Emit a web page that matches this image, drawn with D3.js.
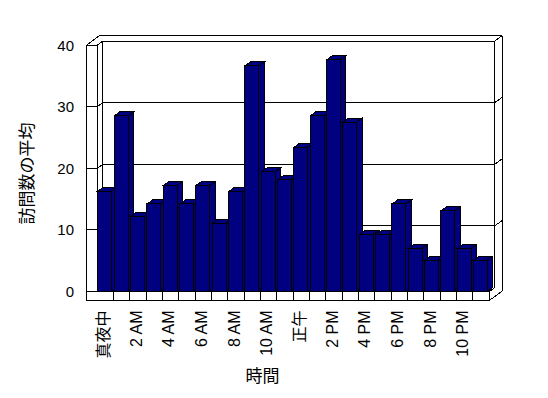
<!DOCTYPE html>
<html>
<head>
<meta charset="utf-8">
<script src="https://cdn.jsdelivr.net/npm/d3@7"></script>
<style>
  body { margin: 0; background: #fff; }
  svg { display: block; font-family: "Liberation Sans", "Noto Sans CJK JP", sans-serif; }
</style>
</head>
<body>
<svg id="chart" width="548" height="398"></svg>
<script>
// data
const hours = ["真夜中", "1 AM", "2 AM", "3 AM", "4 AM", "5 AM", "6 AM", "7 AM", "8 AM", "9 AM", "10 AM", "11 AM",
    "正午", "1 PM", "2 PM", "3 PM", "4 PM", "5 PM", "6 PM", "7 PM", "8 PM", "9 PM", "10 PM", "11 PM"];
const visits = [16.3, 28.5, 12.2, 14.2, 17.2, 14.2, 17.2, 11.1, 16.2, 36.6, 19.4, 18.1,
    23.4, 28.5, 37.6, 27.5, 9.2, 9.2, 14.2, 7.0, 5.1, 13.1, 7.0, 5.1];
const yTicks = [0, 10, 20, 30, 40];
const xLabels = hours.filter((d, i) => i % 2 == 0);

// layout
const plotLeft = 97.3, plotRight = 489.3;
const depth = { x: 5.5, y: -4 };      // bar / plot depth
const thick = { x: 7.5, y: -5.5 };    // wall thickness
const sideW = 10.6, floorH = 9;

const svg = d3.select("#chart");
const g = svg.append("g").attr("shape-rendering", "crispEdges");

const xScale = d3.scaleBand().domain(hours).range([plotLeft, plotRight]);
const yScale = d3.scaleLinear().domain([0, 40]).range([291.5, 45]);
const bw = xScale.bandwidth();

const yTop = yScale(40), yBase = yScale(0);
const bx0 = plotLeft + depth.x, bx1 = plotRight + depth.x;
const ox = depth.x + thick.x, oy = depth.y + thick.y;

function line(x1, y1, x2, y2) {
    g.append("line")
        .attr("x1", x1).attr("y1", y1).attr("x2", x2).attr("y2", y2)
        .attr("stroke", "#000").attr("stroke-width", 1);
}

// left wall front face
g.append("rect")
    .attr("x", plotLeft - sideW).attr("y", yTop)
    .attr("width", sideW).attr("height", yBase + floorH - yTop)
    .attr("fill", "#fff").attr("stroke", "#000");
// wall tops and back wall
line(plotLeft - sideW, yTop, plotLeft - sideW + ox, yTop + oy);
line(plotLeft, yTop, bx0, yTop + depth.y);
line(plotLeft - sideW + ox, yTop + oy, bx1 + thick.x, yTop + oy);
line(bx0, yTop + depth.y, bx1, yTop + depth.y);
line(bx0, yTop + depth.y, bx0, yBase + depth.y);
line(bx1, yTop + depth.y, bx1, yBase + depth.y);
line(bx1 + thick.x, yTop + oy, bx1 + thick.x, yBase + floorH + oy);
line(bx1, yTop + depth.y, bx1 + thick.x, yTop + oy);

// gridlines
yTicks.forEach(function (v) {
    const fy = yScale(v);
    line(plotLeft - sideW, fy, plotLeft, fy);
    line(plotLeft, fy, bx0, fy + depth.y);
    if (v > 0) {
        line(bx0, fy + depth.y, bx1, fy + depth.y);
        line(bx1, fy + depth.y, bx1 + thick.x, fy + oy);
    }
});

// floor
g.append("rect")
    .attr("x", plotLeft - sideW).attr("y", yBase)
    .attr("width", plotRight - plotLeft + sideW).attr("height", floorH)
    .attr("fill", "#fff").attr("stroke", "#000");
hours.forEach(function (d) {
    line(xScale(d) + bw, yBase, xScale(d) + bw, yBase + floorH);
});
line(plotRight, yBase + floorH, plotRight + ox, yBase + floorH + oy);
line(plotRight, yBase, bx1, yBase + depth.y);

// bars
const bars = g.selectAll(".bar")
    .data(hours.map((d, i) => ({ hour: d, value: visits[i] })))
    .enter().append("g").attr("class", "bar");

bars.each(function (d) {
    const el = d3.select(this);
    const x0 = xScale(d.hour) + bw * 0.04, x1 = x0 + bw * 0.84;
    const y0 = yScale(d.value);
    el.append("path")
        .attr("d", `M${x1},${y0}L${x1 + depth.x},${y0 + depth.y}L${x1 + depth.x},${yBase + depth.y}L${x1},${yBase}Z`)
        .attr("fill", "#000080").attr("stroke", "#000");
    el.append("path")
        .attr("d", `M${x0},${y0}L${x0 + depth.x},${y0 + depth.y}L${x1 + depth.x},${y0 + depth.y}L${x1},${y0}Z`)
        .attr("fill", "#000080").attr("stroke", "#000");
    el.append("rect")
        .attr("x", x0).attr("y", y0)
        .attr("width", x1 - x0).attr("height", yBase - y0)
        .attr("fill", "#000080").attr("stroke", "#000");
});

// y tick labels
svg.append("g").selectAll("text")
    .data(yTicks).enter().append("text")
    .attr("x", 74).attr("y", d => yScale(d))
    .attr("text-anchor", "end")
    .attr("dominant-baseline", "central")
    .style("font-size", "15px")
    .text(d => d);

// x tick labels
svg.append("g").selectAll("text")
    .data(xLabels).enter().append("text")
    .attr("transform", d => "translate(" + (xScale(d) + bw / 2 - 2) + ",310.5) rotate(-90)")
    .attr("text-anchor", "end")
    .attr("dominant-baseline", "central")
    .style("font-size", "16px")
    .text(d => d);

// axis titles
svg.append("text")
    .attr("transform", "translate(27.5,173.5) rotate(-90)")
    .attr("text-anchor", "middle")
    .attr("dominant-baseline", "central")
    .style("font-size", "17px")
    .text("訪問数の平均");

svg.append("text")
    .attr("x", 262.5).attr("y", 376.5)
    .attr("text-anchor", "middle")
    .attr("dominant-baseline", "central")
    .style("font-size", "17px")
    .text("時間");
</script>
</body>
</html>
